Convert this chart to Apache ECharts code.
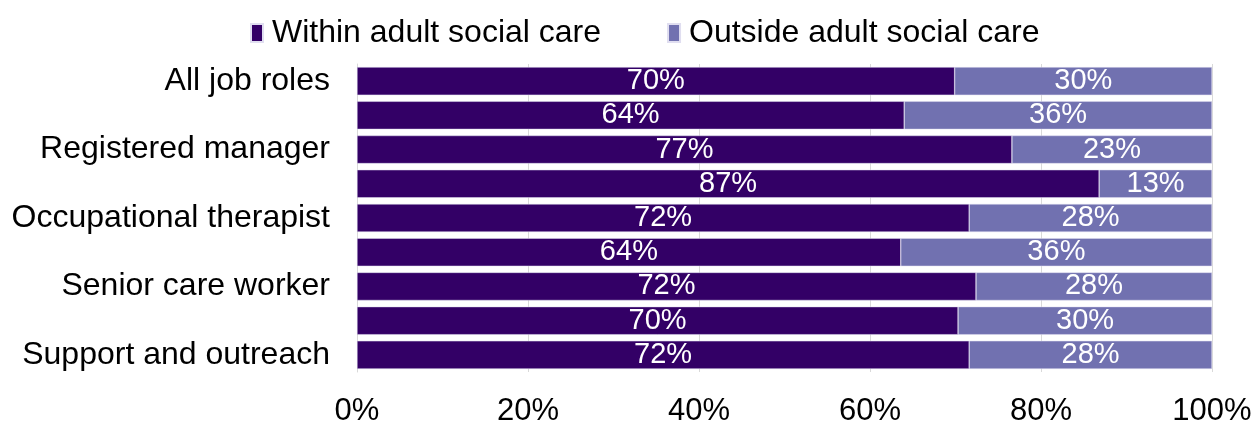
<!DOCTYPE html>
<html>
<head>
<meta charset="utf-8">
<script src="https://cdn.jsdelivr.net/npm/echarts@6/dist/echarts.min.js"></script>
<style>html,body{margin:0;padding:0;background:#fff;}#c{width:1259px;height:421px;}</style>
</head>
<body>
<div id="c"></div>
<script>
const categories = ['All job roles', 'Senior management', 'Registered manager', 'Social worker', 'Occupational therapist', 'Registered nurse', 'Senior care worker', 'Care worker', 'Support and outreach'];
const withinValues = [69.9, 64.0, 76.6, 86.8, 71.6, 63.6, 72.4, 70.3, 71.6];
const outsideValues = [30.1, 36.0, 23.4, 13.2, 28.4, 36.4, 27.6, 29.7, 28.4];
const xTicks = [0, 20, 40, 60, 80, 100];

const chart = echarts.init(document.getElementById('c'));
const font = 'Liberation Sans, Arial, sans-serif';
const labelCfg = {
  show: true, position: 'inside', color: '#fff', fontSize: 29, fontFamily: font,
  formatter: p => Math.round(p.value) + '%'
};
chart.setOption({
  animation: false,
  legend: {
    top: 12, left: 245, itemWidth: 12, itemHeight: 18, itemGap: 66,
    icon: 'rect',
    textStyle: { fontSize: 32, fontFamily: font, color: '#000', padding: [0, 0, 0, 4] },
    data: ['Within adult social care', 'Outside adult social care']
  },
  grid: { left: 357, right: 47, top: 64, bottom: 49, containLabel: false, outerBoundsMode: 'none' },
  xAxis: {
    type: 'value', min: 0, max: 100, interval: 20,
    axisLabel: { formatter: v => xTicks.includes(v) ? v + '%' : '', fontSize: 31, fontFamily: font, color: '#000', margin: 24 },
    splitLine: { show: true, lineStyle: { color: '#d9d9d9', width: 1 } },
    axisLine: { show: false }, axisTick: { show: false }
  },
  yAxis: {
    type: 'category', data: categories, inverse: true,
    axisLabel: { interval: 1, fontSize: 32, fontFamily: font, color: '#000', margin: 27 },
    axisLine: { show: true, lineStyle: { color: '#d9d9d9' } }, axisTick: { show: false }
  },
  series: [
    {
      name: 'Within adult social care', type: 'bar', stack: 'a', data: withinValues,
      barCategoryGap: '18%',
      itemStyle: { color: '#330066', borderColor: '#e0def0', borderWidth: 0.5 },
      label: labelCfg
    },
    {
      name: 'Outside adult social care', type: 'bar', stack: 'a', data: outsideValues,
      barCategoryGap: '18%',
      itemStyle: { color: '#7171B0', borderColor: '#e0def0', borderWidth: 0.5 },
      label: labelCfg
    }
  ]
});
</script>
</body>
</html>
